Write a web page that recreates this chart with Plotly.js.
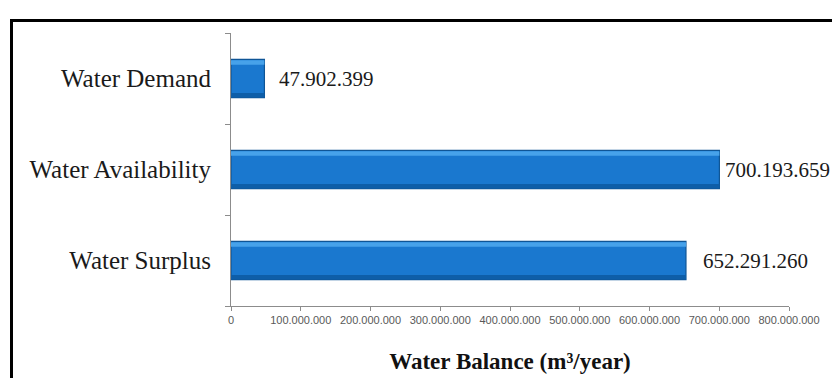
<!DOCTYPE html>
<html>
<head>
<meta charset="utf-8">
<script src="https://cdn.plot.ly/plotly-3.0.1.min.js"></script>
<style>
html,body{margin:0;padding:0;background:#fff;}
#wrap{position:relative;width:832px;height:378px;overflow:hidden;}
#frame{position:absolute;left:10px;top:19px;width:840px;height:400px;border-left:3px solid #000;border-top:3px solid #000;pointer-events:none;z-index:5;}
#chart{position:absolute;left:0;top:0;width:832px;height:378px;}
</style>
</head>
<body>
<div id="wrap"><div id="chart"></div><div id="frame"></div></div>
<script>
const categories = ["Water Surplus", "Water Availability", "Water Demand"];
const values = [652291260, 700193659, 47902399];
const tickValues = [0, 100000000, 200000000, 300000000, 400000000, 500000000, 600000000, 700000000, 800000000];
const labelShift = [15, 4, 13];

function fmt(v){ return String(Math.round(v)).replace(/\B(?=(\d{3})+(?!\d))/g, "."); }

const serif = "Liberation Serif, Times New Roman, serif";
const sans = "Liberation Sans, Arial, sans-serif";

const trace = {
  type: "bar",
  orientation: "h",
  y: categories,
  x: values,
  width: 0.42,
  marker: {color: "#1a78cf", line: {color: "#0f5596", width: 1.2}},
  hoverinfo: "none"
};
const highlight = {
  type: "bar", orientation: "h", y: categories, x: values, width: 0.05, offset: 0.15,
  marker: {color: "#47a2ea", line: {width: 0}}, hoverinfo: "none"
};
const shade = {
  type: "bar", orientation: "h", y: categories, x: values, width: 0.05, offset: -0.21,
  marker: {color: "#0e5ea8", line: {width: 0}}, hoverinfo: "none"
};

const annotations = values.map((v, i) => ({
  x: v, y: categories[i], xref: "x", yref: "y",
  text: fmt(v), showarrow: false, xanchor: "left", yanchor: "middle",
  xshift: labelShift[i], font: {family: serif, size: 21, color: "#1a1a1a"}
}));

const layout = {
  width: 832, height: 378,
  margin: {l: 231, r: 43, t: 33, b: 72},
  paper_bgcolor: "#fff", plot_bgcolor: "#fff",
  showlegend: false,
  barmode: "overlay",
  xaxis: {
    range: [0, 800000000],
    tickvals: tickValues,
    ticktext: tickValues.map(fmt),
    showgrid: false, zeroline: false,
    showline: true, linecolor: "#8c8c8c", linewidth: 1,
    ticks: "outside", ticklen: 4, tickcolor: "#8c8c8c",
    tickfont: {family: sans, size: 11, color: "#595959"},
    title: {text: "<b>Water Balance (m³/year)</b>", font: {family: serif, size: 23, color: "#111"}, standoff: 27}
  },
  yaxis: {
    type: "category",
    categoryorder: "array", categoryarray: categories,
    range: [-0.5, 2.5],
    showgrid: false, zeroline: false,
    showline: true, linecolor: "#8c8c8c", linewidth: 1,
    ticks: "outside", ticklen: 5, tickcolor: "#8c8c8c", tickson: "boundaries",
    ticklabelstandoff: 14,
    tickfont: {family: serif, size: 25, color: "#1a1a1a"}
  },
  annotations: annotations
};

Plotly.newPlot("chart", [trace, shade, highlight], layout, {staticPlot: true, displayModeBar: false});
</script>
</body>
</html>
